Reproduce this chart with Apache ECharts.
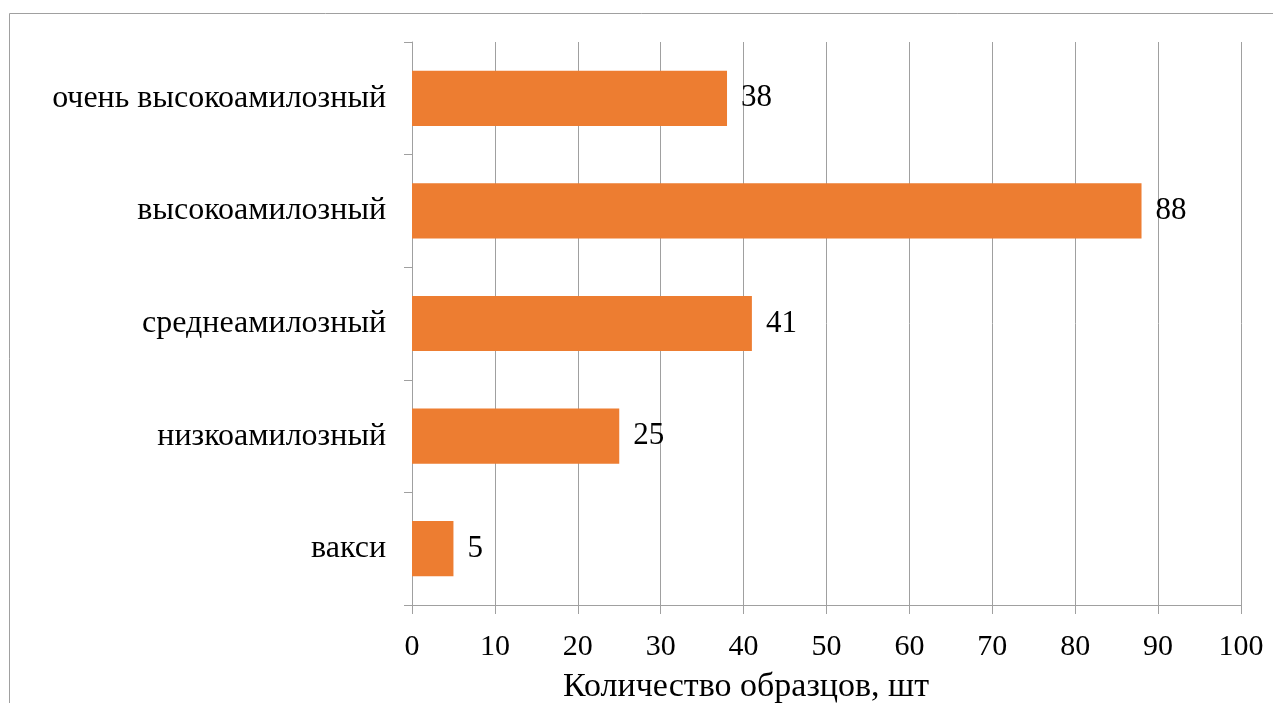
<!DOCTYPE html>
<html>
<head>
<meta charset="utf-8">
<script src="https://cdn.jsdelivr.net/npm/echarts@6/dist/echarts.min.js"></script>
<style>
  html, body { margin: 0; padding: 0; background: #fff; }
  #chart { width: 1273px; height: 703px; }
</style>
</head>
<body>
<div id="chart"></div>
<script>
// Amylose content classes, listed bottom to top
const categories = ['вакси', 'низкоамилозный', 'среднеамилозный', 'высокоамилозный', 'очень высокоамилозный'];
const sampleCounts = [5, 25, 41, 88, 38];
const axisTitle = 'Количество образцов, шт';

const serif = '"Liberation Serif", "DejaVu Serif", "Times New Roman", serif';
const gridColor = '#a0a0a0';

const chart = echarts.init(document.getElementById('chart'));
chart.setOption({
  backgroundColor: '#ffffff',
  animation: false,
  grid: { left: 412, right: 32, top: 42, bottom: 98, containLabel: false },
  graphic: [
    {
      type: 'rect',
      shape: { x: 9.5, y: 13.5, width: 1300, height: 800 },
      style: { fill: 'none', stroke: '#a0a0a0', lineWidth: 1 },
      silent: true
    },
    {
      type: 'text',
      left: 563,
      top: 670,
      style: { text: axisTitle, font: '34px ' + serif, fill: '#000' }
    }
  ],
  xAxis: {
    type: 'value',
    min: 0,
    max: 100,
    interval: 10,
    axisLine: { show: true, lineStyle: { color: gridColor, width: 1 } },
    axisTick: { show: true, length: 9, lineStyle: { color: gridColor } },
    axisLabel: { color: '#000', fontFamily: serif, fontSize: 30, margin: 27 },
    splitLine: { show: true, lineStyle: { color: gridColor, width: 1 } }
  },
  yAxis: {
    type: 'category',
    data: categories,
    axisLine: { show: true, lineStyle: { color: gridColor, width: 1 } },
    axisTick: { show: true, length: 8, alignWithLabel: false, lineStyle: { color: gridColor } },
    axisLabel: { color: '#000', fontFamily: serif, fontSize: 32, margin: 26 },
    splitLine: { show: false }
  },
  series: [{
    type: 'bar',
    data: sampleCounts,
    barCategoryGap: '51%',
    itemStyle: { color: '#ED7D31' },
    label: {
      show: true,
      position: 'right',
      distance: 14,
      color: '#000',
      fontFamily: serif,
      fontSize: 31
    }
  }]
});
</script>
</body>
</html>
